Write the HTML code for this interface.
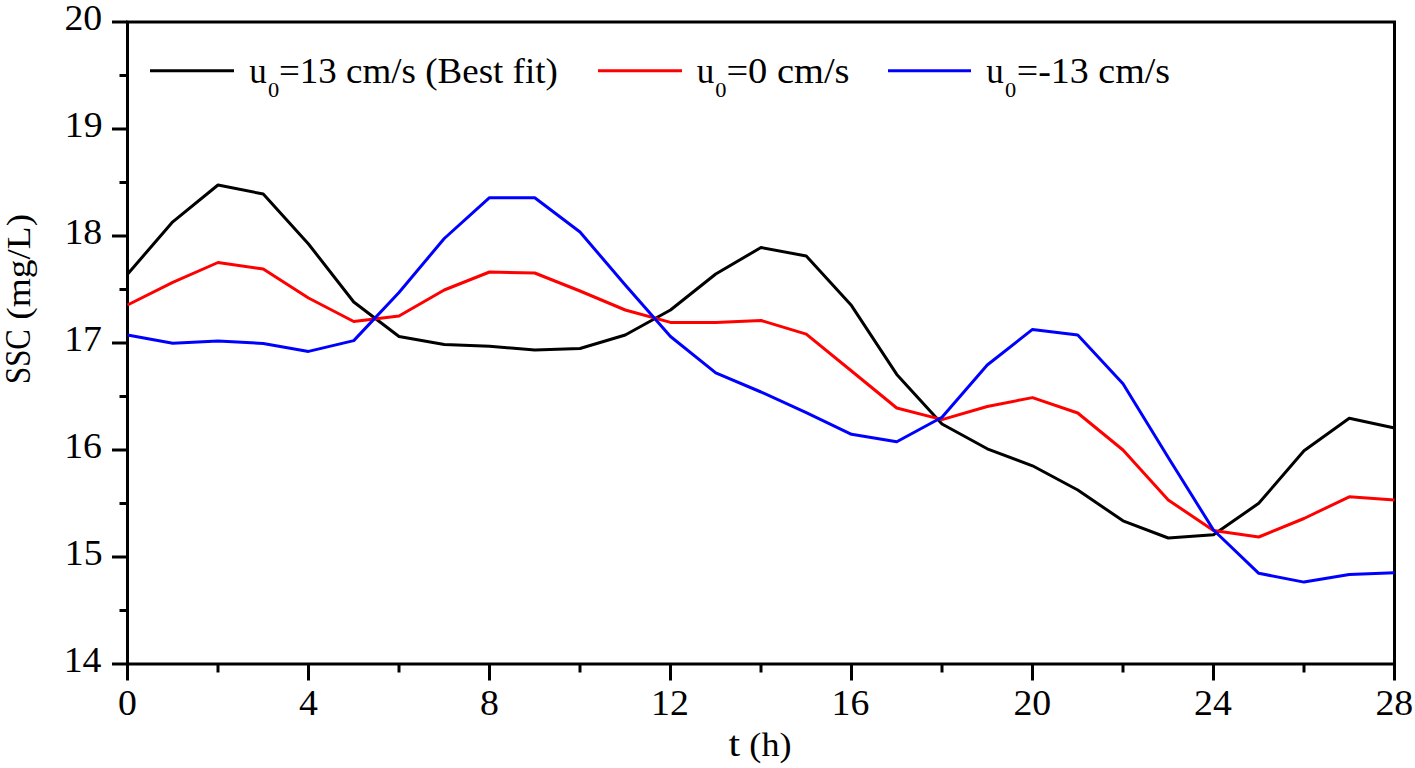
<!DOCTYPE html>
<html><head><meta charset="utf-8"><style>
html,body{margin:0;padding:0;background:#fff;}
body{width:1415px;height:768px;overflow:hidden;}
svg{display:block;}
.t{font-family:"Liberation Serif",serif;font-size:35px;fill:#000;font-variant-ligatures:none;font-kerning:none;}
</style></head><body>
<svg width="1415" height="768" viewBox="0 0 1415 768">
<rect x="127.5" y="22.0" width="1267.0" height="642.0" fill="none" stroke="#000" stroke-width="3"/>
<line x1="112.0" y1="664.0" x2="127.5" y2="664.0" stroke="#000" stroke-width="3"/>
<line x1="119.5" y1="610.5" x2="127.5" y2="610.5" stroke="#000" stroke-width="3"/>
<line x1="112.0" y1="557.0" x2="127.5" y2="557.0" stroke="#000" stroke-width="3"/>
<line x1="119.5" y1="503.5" x2="127.5" y2="503.5" stroke="#000" stroke-width="3"/>
<line x1="112.0" y1="450.0" x2="127.5" y2="450.0" stroke="#000" stroke-width="3"/>
<line x1="119.5" y1="396.5" x2="127.5" y2="396.5" stroke="#000" stroke-width="3"/>
<line x1="112.0" y1="343.0" x2="127.5" y2="343.0" stroke="#000" stroke-width="3"/>
<line x1="119.5" y1="289.5" x2="127.5" y2="289.5" stroke="#000" stroke-width="3"/>
<line x1="112.0" y1="236.0" x2="127.5" y2="236.0" stroke="#000" stroke-width="3"/>
<line x1="119.5" y1="182.5" x2="127.5" y2="182.5" stroke="#000" stroke-width="3"/>
<line x1="112.0" y1="129.0" x2="127.5" y2="129.0" stroke="#000" stroke-width="3"/>
<line x1="119.5" y1="75.5" x2="127.5" y2="75.5" stroke="#000" stroke-width="3"/>
<line x1="112.0" y1="22.0" x2="127.5" y2="22.0" stroke="#000" stroke-width="3"/>
<line x1="127.5" y1="664.0" x2="127.5" y2="680.5" stroke="#000" stroke-width="3"/>
<line x1="218.0" y1="664.0" x2="218.0" y2="672.5" stroke="#000" stroke-width="3"/>
<line x1="308.5" y1="664.0" x2="308.5" y2="680.5" stroke="#000" stroke-width="3"/>
<line x1="399.0" y1="664.0" x2="399.0" y2="672.5" stroke="#000" stroke-width="3"/>
<line x1="489.5" y1="664.0" x2="489.5" y2="680.5" stroke="#000" stroke-width="3"/>
<line x1="580.0" y1="664.0" x2="580.0" y2="672.5" stroke="#000" stroke-width="3"/>
<line x1="670.5" y1="664.0" x2="670.5" y2="680.5" stroke="#000" stroke-width="3"/>
<line x1="761.0" y1="664.0" x2="761.0" y2="672.5" stroke="#000" stroke-width="3"/>
<line x1="851.5" y1="664.0" x2="851.5" y2="680.5" stroke="#000" stroke-width="3"/>
<line x1="942.0" y1="664.0" x2="942.0" y2="672.5" stroke="#000" stroke-width="3"/>
<line x1="1032.5" y1="664.0" x2="1032.5" y2="680.5" stroke="#000" stroke-width="3"/>
<line x1="1123.0" y1="664.0" x2="1123.0" y2="672.5" stroke="#000" stroke-width="3"/>
<line x1="1213.5" y1="664.0" x2="1213.5" y2="680.5" stroke="#000" stroke-width="3"/>
<line x1="1304.0" y1="664.0" x2="1304.0" y2="672.5" stroke="#000" stroke-width="3"/>
<line x1="1394.5" y1="664.0" x2="1394.5" y2="680.5" stroke="#000" stroke-width="3"/>
<text transform="translate(101.44,671.60) scale(1.0800,1.0000)" text-anchor="end" class="t">14</text>
<text transform="translate(102.52,564.60) scale(1.0800,1.0000)" text-anchor="end" class="t">15</text>
<text transform="translate(101.98,457.60) scale(1.0800,1.0000)" text-anchor="end" class="t">16</text>
<text transform="translate(101.98,350.60) scale(1.0800,1.0000)" text-anchor="end" class="t">17</text>
<text transform="translate(102.25,243.60) scale(1.0800,1.0000)" text-anchor="end" class="t">18</text>
<text transform="translate(102.52,136.60) scale(1.0800,1.0000)" text-anchor="end" class="t">19</text>
<text transform="translate(102.25,29.60) scale(1.0800,1.0000)" text-anchor="end" class="t">20</text>
<text transform="translate(127.50,715.10) scale(1.0800,1.0000)" text-anchor="middle" class="t">0</text>
<text transform="translate(308.37,715.10) scale(1.0800,1.0000)" text-anchor="middle" class="t">4</text>
<text transform="translate(489.50,715.10) scale(1.0800,1.0000)" text-anchor="middle" class="t">8</text>
<text transform="translate(669.96,715.10) scale(1.0800,1.0000)" text-anchor="middle" class="t">12</text>
<text transform="translate(850.42,715.10) scale(1.0800,1.0000)" text-anchor="middle" class="t">16</text>
<text transform="translate(1032.37,715.10) scale(1.0800,1.0000)" text-anchor="middle" class="t">20</text>
<text transform="translate(1212.96,715.10) scale(1.0800,1.0000)" text-anchor="middle" class="t">24</text>
<text transform="translate(1394.37,715.10) scale(1.0800,1.0000)" text-anchor="middle" class="t">28</text>
<text transform="translate(728.50,756.34) scale(1.2000,1.0400)" text-anchor="start" class="t">t</text>
<text transform="translate(749.35,755.79) scale(1.0331,0.9810)" text-anchor="start" class="t">(h)</text>
<text transform="rotate(-90) translate(-383.98,30.24) scale(0.8793,1.0255)" class="t">SSC</text>
<text transform="rotate(-90) translate(-319.70,29.65) scale(1.0677,0.9795)" class="t">(mg/L)</text>
<polyline points="127.50,274.20 172.75,221.80 218.00,185.00 263.25,194.00 308.50,244.00 353.75,302.00 399.00,336.50 444.25,344.50 489.50,346.30 534.75,350.00 580.00,348.50 625.25,335.00 670.50,310.00 715.75,274.00 761.00,247.50 806.25,256.00 851.50,305.60 896.75,374.40 942.00,424.00 987.25,448.80 1032.50,465.80 1077.75,490.00 1123.00,520.80 1168.25,538.00 1213.50,534.80 1258.75,503.30 1304.00,450.80 1349.25,418.30 1394.50,428.00" fill="none" stroke="#000" stroke-width="3" stroke-linejoin="round" stroke-linecap="butt"/>
<polyline points="127.50,305.00 172.75,282.30 218.00,262.50 263.25,269.00 308.50,298.00 353.75,321.50 399.00,316.00 444.25,290.00 489.50,272.00 534.75,273.00 580.00,291.00 625.25,310.00 670.50,322.40 715.75,322.40 761.00,320.50 806.25,334.10 851.50,371.00 896.75,408.00 942.00,419.60 987.25,406.50 1032.50,397.60 1077.75,413.00 1123.00,450.00 1168.25,500.00 1213.50,530.50 1258.75,537.00 1304.00,518.50 1349.25,496.80 1394.50,500.00" fill="none" stroke="#f00" stroke-width="3" stroke-linejoin="round" stroke-linecap="butt"/>
<polyline points="127.50,335.00 172.75,343.30 218.00,341.00 263.25,343.40 308.50,351.40 353.75,340.60 399.00,292.50 444.25,238.50 489.50,197.70 534.75,197.70 580.00,232.00 625.25,285.00 670.50,336.50 715.75,372.80 761.00,392.00 806.25,412.60 851.50,434.30 896.75,441.80 942.00,417.30 987.25,365.00 1032.50,329.40 1077.75,335.00 1123.00,383.80 1168.25,457.50 1213.50,530.00 1258.75,573.30 1304.00,582.10 1349.25,574.40 1394.50,572.80" fill="none" stroke="#00f" stroke-width="3" stroke-linejoin="round" stroke-linecap="butt"/>
<line x1="150" y1="70.7" x2="234" y2="70.7" stroke="#000" stroke-width="3"/><text transform="translate(249.20,83.45) scale(1.0000,1.0000)" text-anchor="start" class="t">u</text><text transform="translate(267.90,97.45) scale(0.6400,0.5915)" text-anchor="start" class="t">0</text><text transform="translate(278.95,83.45) scale(1.0576,1.0000)" text-anchor="start" class="t">=13 cm/s (Best fit)</text>
<line x1="598" y1="70.7" x2="682" y2="70.7" stroke="#f00" stroke-width="3"/><text transform="translate(696.70,83.45) scale(1.0000,1.0000)" text-anchor="start" class="t">u</text><text transform="translate(715.30,97.45) scale(0.6400,0.5915)" text-anchor="start" class="t">0</text><text transform="translate(726.38,83.45) scale(1.0991,1.0000)" text-anchor="start" class="t">=0 cm/s</text>
<line x1="888" y1="70.7" x2="971" y2="70.7" stroke="#00f" stroke-width="3"/><text transform="translate(986.30,83.45) scale(1.0000,1.0000)" text-anchor="start" class="t">u</text><text transform="translate(1005.00,97.45) scale(0.6400,0.5915)" text-anchor="start" class="t">0</text><text transform="translate(1016.80,83.45) scale(1.0857,1.0000)" text-anchor="start" class="t">=-13 cm/s</text>
</svg>
</body></html>
